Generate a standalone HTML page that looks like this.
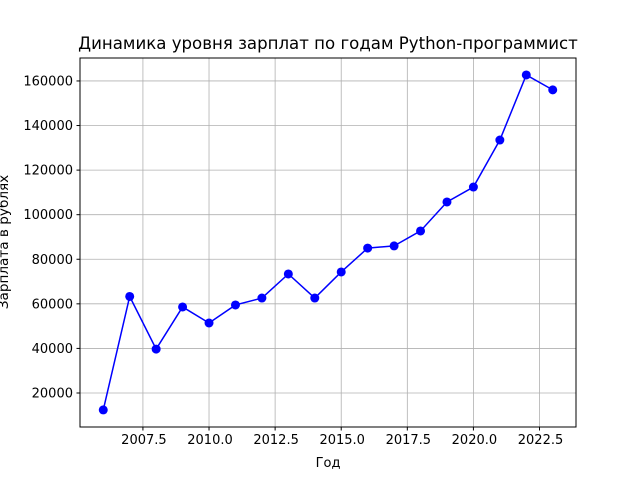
<!DOCTYPE html>
<html><head><meta charset="utf-8"><style>
body{margin:0;background:#fff;}
svg{display:block;font-family:"DejaVu Sans","Liberation Sans",sans-serif;}
</style></head><body>
<svg id="chart" width="640" height="480">
<rect width="640" height="480" fill="#fff"/>
<text x="328" y="49" text-anchor="middle" font-size="16.6">Динамика уровня зарплат по годам Python-программист</text>
<g id="grid"></g><g id="ticks"></g>
<rect x="80" y="58" width="496" height="369" fill="none" stroke="#000" stroke-width="1"/>
<g id="series"></g>
<text x="328" y="467" text-anchor="middle" font-size="13">Год</text>
<text transform="translate(8,242) rotate(-90)" text-anchor="middle" font-size="13.6">Зарплата в рублях</text>
</svg>
<script>
const years=[2006,2007,2008,2009,2010,2011,2012,2013,2014,2015,2016,2017,2018,2019,2020,2021,2022,2023];
const salaries=[12400,63300,39700,58600,51400,59500,62600,73400,62600,74300,85000,86000,92700,105700,112400,133500,162700,156000];
const xTicks=[2007.5,2010.0,2012.5,2015.0,2017.5,2020.0,2022.5];
const yTicks=[20000,40000,60000,80000,100000,120000,140000,160000];
const L=80,R=576,T=58,B=427,x0=2005.12,x1=2023.88,y0=4740,y1=170300;
const X=v=>L+(v-x0)/(x1-x0)*(R-L);
const Y=v=>B-(v-y0)/(y1-y0)*(B-T);
const NS="http://www.w3.org/2000/svg";
function mk(t,a,p){const e=document.createElementNS(NS,t);for(const k in a)e.setAttribute(k,a[k]);p.appendChild(e);return e;}
const g=document.getElementById('grid'),tk=document.getElementById('ticks'),s=document.getElementById('series');
xTicks.forEach(v=>{const x=X(v);
const l=mk('line',{x1:x,x2:x,y1:T,y2:B,stroke:'#b0b0b0','stroke-width':0.8},g);

mk('line',{x1:x,x2:x,y1:B,y2:B+3.5,stroke:'#000'},tk);
const t=mk('text',{x:x+1,y:B+17,'text-anchor':'middle','font-size':13},tk);t.textContent=v.toFixed(1);
});
yTicks.forEach(v=>{const y=Y(v);
const l=mk('line',{x1:L,x2:R,y1:y,y2:y,stroke:'#b0b0b0','stroke-width':0.8},g);

mk('line',{x1:L-3.5,x2:L,y1:y,y2:y,stroke:'#000'},tk);
const t=mk('text',{x:L-7,y:y+4.5,'text-anchor':'end','font-size':13},tk);t.textContent=v;
});
const pl=mk('polyline',{points:years.map((y,i)=>X(y)+','+Y(salaries[i])).join(' '),fill:'none',stroke:'#0000ff','stroke-width':1.5},s);

years.forEach((y,i)=>{const c=mk('circle',{cx:X(y),cy:Y(salaries[i]),r:4.5,fill:'#0000ff'},s);
});
</script>
</body></html>
